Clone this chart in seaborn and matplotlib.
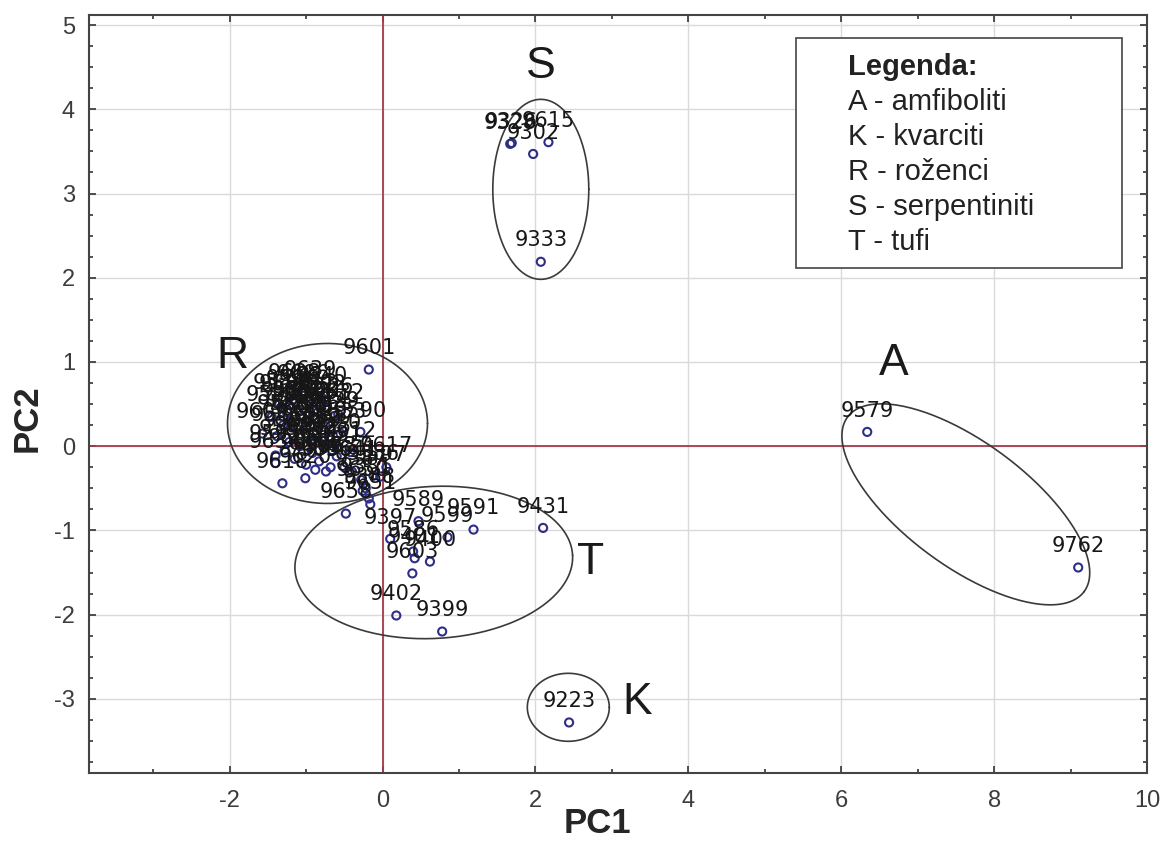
import numpy as np
import pandas as pd
import matplotlib
matplotlib.use("Agg")
import matplotlib.pyplot as plt
from matplotlib.patches import Rectangle
from matplotlib.ticker import MultipleLocator
import seaborn as sns

# skupina R - roženci
r_id = [9601, 9590, 9588, 9592, 9609, 9595, 9612, 9618, 9620, 9580,
        9581, 9582, 9583, 9584, 9585, 9587, 9593, 9596, 9598, 9600,
        9602, 9604, 9605, 9606, 9607, 9608, 9611, 9613, 9614, 9616,
        9619, 9621, 9622, 9623, 9624, 9625, 9626, 9627, 9628, 9629,
        9630, 9631, 9632, 9633, 9634, 9635, 9636, 9637, 9638, 9639,
        9640, 9641, 9387, 9386, 9597, 9617, 9381, 9388, 9650, 9651]
r_pc1 = [-0.18, -0.29, -1.27, -0.81, -1.57, -1.40, -0.42, -1.31, -1.01, -1.45,
         -1.38, -1.35, -1.30, -1.28, -1.25, -1.22, -1.20, -1.18, -1.15, -1.12,
         -1.10, -1.08, -1.05, -1.03, -1.00, -0.98, -0.96, -0.93, -0.92, -0.90,
         -0.88, -0.85, -0.83, -0.80, -0.78, -0.75, -0.72, -0.70, -0.68, -0.65,
         -0.62, -0.60, -0.58, -0.55, -1.40, -0.88, -0.74, -0.50, -1.15, -0.95,
         -0.80, -0.40, -0.28, -0.12, -0.03, 0.05, -0.22, -0.18, -0.26, -0.16]
r_pc2 = [0.91, 0.17, 0.49, 0.49, 0.15, -0.11, -0.07, -0.44, -0.38, 0.35,
         0.12, 0.50, 0.25, -0.05, 0.40, 0.05, 0.30, 0.55, -0.15, 0.20,
         0.42, 0.00, 0.28, 0.60, -0.22, 0.12, 0.38, 0.50, -0.08, 0.25,
         0.05, 0.40, -0.18, 0.18, 0.32, -0.02, 0.45, 0.10, -0.25, 0.28,
         0.02, -0.12, 0.38, 0.15, -0.20, -0.28, -0.30, -0.25, 0.62, 0.65,
         0.58, -0.30, -0.40, -0.35, -0.36, -0.25, -0.50, -0.62, -0.53, -0.69]

# skupina T - tufi
t_id = [9658, 9589, 9397, 9599, 9591, 9431, 9586, 9401, 9400, 9603, 9402, 9399]
t_pc1 = [-0.48, 0.47, 0.10, 0.85, 1.19, 2.10, 0.40, 0.42, 0.62, 0.39, 0.18, 0.78]
t_pc2 = [-0.80, -0.89, -1.10, -1.08, -0.99, -0.97, -1.25, -1.33, -1.37, -1.51, -2.01, -2.20]

# skupina S - serpentiniti
s_id = [9328, 9326, 9302, 9615, 9333]
s_pc1 = [1.67, 1.69, 1.97, 2.17, 2.07]
s_pc2 = [3.59, 3.60, 3.47, 3.61, 2.19]

# skupina A - amfiboliti
a_id = [9579, 9762]
a_pc1 = [6.34, 9.10]
a_pc2 = [0.17, -1.44]

# skupina K - kvarciti
k_id = [9223]
k_pc1 = [2.44]
k_pc2 = [-3.28]

legend_lines = ["A - amfiboliti", "K - kvarciti", "R - roženci",
                "S - serpentiniti", "T - tufi"]

df = pd.concat([
    pd.DataFrame({"id": r_id, "PC1": r_pc1, "PC2": r_pc2, "grp": "R"}),
    pd.DataFrame({"id": t_id, "PC1": t_pc1, "PC2": t_pc2, "grp": "T"}),
    pd.DataFrame({"id": s_id, "PC1": s_pc1, "PC2": s_pc2, "grp": "S"}),
    pd.DataFrame({"id": a_id, "PC1": a_pc1, "PC2": a_pc2, "grp": "A"}),
    pd.DataFrame({"id": k_id, "PC1": k_pc1, "PC2": k_pc2, "grp": "K"}),
], ignore_index=True)

sns.set_style("ticks")
plt.rcParams["font.family"] = ["Liberation Sans", "DejaVu Sans"]
plt.rcParams["axes.unicode_minus"] = False

W, H = 1162, 849
fig = plt.figure(figsize=(W / 100, H / 100), dpi=100)
ax_l, ax_r, ax_b, ax_t = 89, 1147, 76, 834
ax = fig.add_axes([ax_l / W, ax_b / H, (ax_r - ax_l) / W, (ax_t - ax_b) / H])

xmin, xmax, ymin, ymax = -3.84, 10.0, -3.88, 5.12
ax.set_xlim(xmin, xmax)
ax.set_ylim(ymin, ymax)
sx = (ax_r - ax_l) / (xmax - xmin)   # px po enoti
sy = (ax_t - ax_b) / (ymax - ymin)

ax.grid(True, which="major", color="#dadada", lw=1.0)
ax.set_axisbelow(True)
ax.axhline(0, color="#a53b4b", lw=1.3, zorder=1.5)
ax.axvline(0, color="#a53b4b", lw=1.3, zorder=1.5)

sns.scatterplot(data=df, x="PC1", y="PC2", ax=ax, marker="o", s=34,
                facecolors="none", edgecolor="#2e2e88", linewidth=1.5,
                legend=False, zorder=3)

for _, row in df.iterrows():
    ax.annotate(str(row["id"]), (row["PC1"], row["PC2"]), xytext=(0, 11),
                textcoords="offset points", ha="center", va="baseline",
                fontsize=15, color="#161616", family="DejaVu Sans", zorder=4)


def ring(cx, cy, a, b, ang=0):
    # a, b v pikslih, kot v stopinjah
    t = np.linspace(0, 2 * np.pi, 300)
    u, v = a * np.cos(t), b * np.sin(t)
    r = np.deg2rad(ang)
    du = u * np.cos(r) - v * np.sin(r)
    dv = u * np.sin(r) + v * np.cos(r)
    ax.plot(cx + du / sx, cy + dv / sy, color="#3a3a3a", lw=1.2, zorder=2)


ring(-0.72, 0.27, 100, 80)
ring(0.67, -1.38, 139, 76, 3)
ring(2.07, 3.05, 48, 90)
ring(2.43, -3.10, 41, 34)
ring(7.63, -0.69, 147, 62, -36.4)

for letter, lx, ly in [("R", -1.96, 1.07), ("S", 2.07, 4.51), ("A", 6.69, 0.98),
                       ("T", 2.72, -1.38), ("K", 3.33, -3.04)]:
    ax.text(lx, ly, letter, fontsize=32, ha="center", va="center", color="#1a1a1a")

# legenda
ax.add_patch(Rectangle((0.668, 0.666), 0.308, 0.304, transform=ax.transAxes,
                       facecolor="white", edgecolor="#444444", lw=1.2, zorder=5))
ax.text(0.717, 0.931, "Legenda:", transform=ax.transAxes, fontsize=21,
        fontweight="bold", va="center", color="#222222", zorder=6)
for i, line in enumerate(legend_lines):
    ax.text(0.717, 0.885 - i * 0.046, line, transform=ax.transAxes, fontsize=21,
            va="center", color="#222222", zorder=6)

ax.set_xticks([-2, 0, 2, 4, 6, 8, 10])
ax.set_yticks([-3, -2, -1, 0, 1, 2, 3, 4, 5])
ax.xaxis.set_minor_locator(MultipleLocator(1))
ax.yaxis.set_minor_locator(MultipleLocator(0.25))
ax.tick_params(which="both", direction="in", top=True, right=True,
               color="#333333", width=1.2)
ax.tick_params(which="major", length=5, labelsize=17, labelcolor="#3c3c3c")
ax.tick_params(which="minor", length=3)
ax.tick_params(axis="x", pad=12)
ax.tick_params(axis="y", pad=10)
for sp in ax.spines.values():
    sp.set_color("#444444")
    sp.set_linewidth(1.5)

ax.set_xlabel("PC1", fontsize=25, fontweight="bold")
ax.set_ylabel("PC2", fontsize=25, fontweight="bold")
ax.xaxis.set_label_coords(0.481, -0.045)
ax.yaxis.set_label_coords(-0.043, 0.468)

fig.savefig("out.png", dpi=100)
